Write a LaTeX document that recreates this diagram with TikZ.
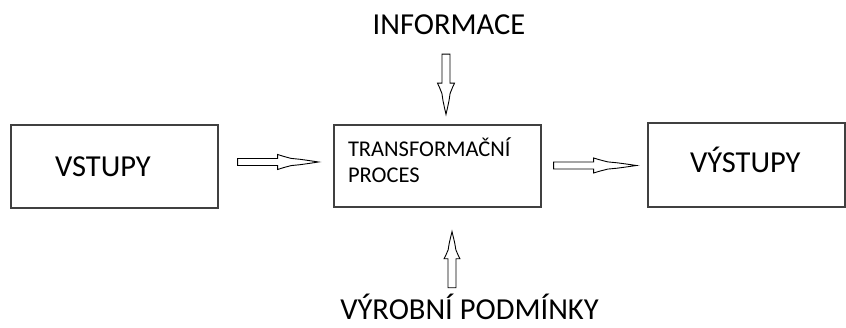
\documentclass[tikz,border=0pt]{standalone}
\usepackage{fontspec}
\setmainfont{Carlito}
\usetikzlibrary{calc,positioning}

\begin{document}
\begin{tikzpicture}[
	x=1pt, y=1pt,
	box/.style   = {draw=black!75, line width=1.2pt, align=left, inner ysep=0pt},
	big/.style   = {font=\fontsize{30.5}{36}\selectfont},
	small/.style = {font=\fontsize{22.5}{26}\selectfont},
	outer/.style = {big, inner sep=0pt, text height=20pt, text depth=0pt},
	arrowline/.style = {draw=black, line width=0.9pt, fill=white, line join=miter},
	% hollow arrow along x: length, shaft length, shaft half width, head half width
	pics/hollow arrow/.style n args={4}{code={
		\draw[arrowline] (0,-#3) -- (#2,-#3) -- (#2,-#4)
			-- ({#2+0.14*(#1-#2)},{-0.76*#4}) -- ({#2+0.33*(#1-#2)},{-0.48*#4})
			-- ({#2+0.55*(#1-#2)},{-0.36*#4}) -- ({#2+0.76*(#1-#2)},{-0.2*#4})
			-- (#1,0)
			-- ({#2+0.76*(#1-#2)},{0.2*#4}) -- ({#2+0.55*(#1-#2)},{0.36*#4})
			-- ({#2+0.33*(#1-#2)},{0.48*#4}) -- ({#2+0.14*(#1-#2)},{0.76*#4})
			-- (#2,#4) -- (#2,#3) -- (0,#3) -- cycle;
	}}]
	
	\useasboundingbox (0,0) rectangle (846,328);
	
	% The three boxes
	\node[box, big, minimum height=83pt, text width=119pt, inner xsep=44pt,
		text height=21pt, text depth=0pt] (vstupy) at (114.5,161.5) {VSTUPY};
	\node[box, small, minimum height=82pt, text width=179pt, inner xsep=14pt,
		text height=14pt, text depth=32pt] (proces) at (437.5,162) {TRANSFORMAČNÍ\\PROCES};
	\node[box, big, minimum height=84pt, text width=113pt, inner xsep=42pt,
		text height=16pt, text depth=0pt] (vystupy) at (746.5,163) {VÝSTUPY};
	
	% Labels above and below the process
	\node[outer, anchor=base] (informace) at (449,293) {INFORMACE};
	\node[outer, anchor=base] (podminky) at (469.5,8) {VÝROBNÍ PODMÍNKY};
	
	% Arrow ends, kept clear of the boxes
	\coordinate (in1)  at ($(vstupy.east)+(19,4.5)$);
	\coordinate (in2)  at ($(proces.west)+(-15,4)$);
	\coordinate (out1) at ($(proces.east)+(12,0.5)$);
	\coordinate (out2) at ($(vystupy.west)+(-11,-0.5)$);
	\coordinate (inf1) at ($(informace.south)+(-3,-19)$);
	\coordinate (inf2) at ($(proces.north)+(8.5,10)$);
	\coordinate (pod1) at ($(podminky.north)+(-17.5,12)$);
	\coordinate (pod2) at ($(proces.south)+(14.5,-24)$);
	
	% Hollow arrows between the ends
	\foreach \from/\to/\shaft/\sw/\hw in {in1/in2/40/3.5/7.5, out1/out2/40/3.5/7.5,
		inf1/inf2/29/4/8.5, pod1/pod2/29/4/8}
	\path let \p1=(\from), \p2=(\to),
		\n1={veclen(\x2-\x1,\y2-\y1)}, \n2={atan2(\y2-\y1,\x2-\x1)} in
		(\p1) pic[rotate=\n2] {hollow arrow={\n1}{\shaft}{\sw}{\hw}};
	
\end{tikzpicture}
\end{document}
